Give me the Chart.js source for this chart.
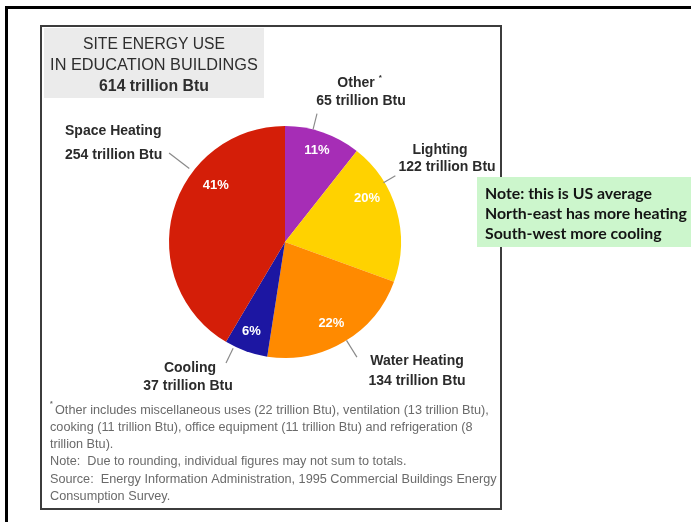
<!DOCTYPE html>
<html>
<head>
<meta charset="utf-8">
<script src="https://cdn.jsdelivr.net/npm/chart.js@4.4.0/dist/chart.umd.min.js"></script>
<style>
  html, body { margin: 0; padding: 0; background: #fff; overflow: hidden; }
  #wrap { width: 691px; height: 522px; position: relative; }
</style>
</head>
<body>
<div id="wrap"><canvas id="c" width="691" height="522"></canvas></div>
<script>
// End uses, clockwise from 12 o'clock
const categories = ['Other', 'Lighting', 'Water Heating', 'Cooling', 'Space Heating'];
const useTrillionBtu = [65, 122, 134, 37, 254];
const totalTrillionBtu = 614;
const sliceColors = ['#a62db6', '#ffd200', '#ff8a00', '#1c16a2', '#d41e08'];

const titleLines = ['SITE ENERGY USE', 'IN EDUCATION BUILDINGS', totalTrillionBtu + ' trillion Btu'];
const footnoteLines = [
  'Other includes miscellaneous uses (22 trillion Btu), ventilation (13 trillion Btu),',
  'cooking (11 trillion Btu), office equipment (11 trillion Btu) and refrigeration (8',
  'trillion Btu).',
  'Note:  Due to rounding, individual figures may not sum to totals.',
  'Source:  Energy Information Administration, 1995 Commercial Buildings Energy',
  'Consumption Survey.'
];
const noteLines = ['Note: this is US average', 'North-east has more heating', 'South-west more cooling'];

// Callout placement per slice, relative to the pie centre (px); second-line shift; leader angle (deg from top) and radii
const callouts = [
  { dx: 71,   dy: -159, gap: 18, shift: 5, align: 'center', star: true, lead: [14, 1.0, 1.14] },
  { dx: 155,  dy: -92,  gap: 17, shift: 7, align: 'center', lead: [59, 0.99, 1.11] },
  { dx: 132,  dy: 119,  gap: 20, shift: 0, align: 'center', lead: [148, 1.0, 1.17] },
  { dx: -95,  dy: 126,  gap: 18, shift: -2, align: 'center', lead: [206, 1.02, 1.16] },
  { dx: -220, dy: -111, gap: 24, shift: 0, align: 'left',   lead: [307.5, 1.04, 1.26] }
];
// Percentage label placement: angle shift from slice middle (deg) and fraction of radius
const pctPlace = [
  { da: 0, f: 0.84 }, { da: -12, f: 0.80 }, { da: 1, f: 0.81 }, { da: 1, f: 0.82 }, { da: 24, f: 0.77 }
];

const SANS = '"Liberation Sans", Arial, sans-serif';
const LABEL_FONT = 'bold 14px ' + SANS;

function fitFont(ctx, text, weight, size, family, width) {
  ctx.font = weight + ' ' + size + 'px ' + family;
  const w = ctx.measureText(text).width;
  const s = size * width / w;
  ctx.font = weight + ' ' + s.toFixed(2) + 'px ' + family;
}

const decor = {
  id: 'decor',
  beforeDraw(chart) {
    const ctx = chart.ctx;
    ctx.save();
    ctx.fillStyle = '#fff';
    ctx.fillRect(0, 0, chart.width, chart.height);
    // page frame
    ctx.fillStyle = '#000';
    ctx.fillRect(5, 6, 686, 3);
    ctx.fillRect(5, 6, 3, 516);
    // figure frame
    ctx.strokeStyle = '#3c3c3c';
    ctx.lineWidth = 2;
    ctx.strokeRect(41, 26, 460, 483);
    // title box
    ctx.fillStyle = '#ebebeb';
    ctx.fillRect(44, 28, 220, 70);
    ctx.fillStyle = '#2e2e2e';
    ctx.textAlign = 'center';
    ctx.textBaseline = 'middle';
    fitFont(ctx, titleLines[0], 'normal', 14, SANS, 142);
    ctx.fillText(titleLines[0], 154, 45);
    fitFont(ctx, titleLines[1], 'normal', 14, SANS, 208);
    ctx.fillText(titleLines[1], 154, 66);
    fitFont(ctx, titleLines[2], 'bold', 13, SANS, 110);
    ctx.fillText(titleLines[2], 154, 87);
    ctx.restore();
  },
  afterDraw(chart) {
    const ctx = chart.ctx;
    const meta = chart.getDatasetMeta(0);
    ctx.save();
    meta.data.forEach((arc, i) => {
      const p = arc.getProps(['x', 'y', 'startAngle', 'endAngle', 'outerRadius'], true);
      const c = callouts[i];
      // leader line
      const a = (c.lead[0] - 90) * Math.PI / 180;
      ctx.strokeStyle = '#8a8a8a';
      ctx.lineWidth = 1.2;
      ctx.beginPath();
      ctx.moveTo(p.x + Math.cos(a) * p.outerRadius * c.lead[1], p.y + Math.sin(a) * p.outerRadius * c.lead[1]);
      ctx.lineTo(p.x + Math.cos(a) * p.outerRadius * c.lead[2], p.y + Math.sin(a) * p.outerRadius * c.lead[2]);
      ctx.stroke();
      // category + value callout
      ctx.fillStyle = '#2b2b2b';
      ctx.textBaseline = 'middle';
      ctx.textAlign = c.align;
      ctx.font = LABEL_FONT;
      const tx = p.x + c.dx, ty = p.y + c.dy;
      ctx.fillText(categories[i], tx, ty);
      if (c.star) {
        const w = ctx.measureText(categories[i]).width;
        ctx.font = 'bold 8px ' + SANS;
        ctx.textAlign = 'left';
        ctx.fillText('*', tx + w / 2 + 4, ty - 5);
        ctx.textAlign = c.align;
        ctx.font = LABEL_FONT;
      }
      ctx.fillText(useTrillionBtu[i] + ' trillion Btu', tx + c.shift, ty + c.gap);
      // percentage inside slice
      const pl = pctPlace[i];
      const mid = (p.startAngle + p.endAngle) / 2 + pl.da * Math.PI / 180;
      const pct = Math.round(useTrillionBtu[i] / totalTrillionBtu * 100) + '%';
      ctx.fillStyle = '#ffffff';
      ctx.textAlign = 'center';
      ctx.font = 'bold 13px ' + SANS;
      ctx.fillText(pct, p.x + Math.cos(mid) * p.outerRadius * pl.f, p.y + Math.sin(mid) * p.outerRadius * pl.f);
    });

    // footnotes
    ctx.fillStyle = '#6a6a6a';
    ctx.textAlign = 'left';
    ctx.textBaseline = 'middle';
    ctx.font = 'bold 7px ' + SANS;
    ctx.fillText('*', 50, 404);
    fitFont(ctx, footnoteLines[0], 'normal', 11, SANS, 434);
    const fnFont = ctx.font;
    footnoteLines.forEach((t, k) => {
      ctx.font = fnFont;
      ctx.fillText(t, k === 0 ? 55 : 50, 410 + k * 17.3);
    });

    // side note
    ctx.fillStyle = '#ccf6cc';
    ctx.fillRect(477, 177, 214, 70);
    ctx.fillStyle = '#141414';
    fitFont(ctx, noteLines[1], 'bold', 14, 'Lato, "Open Sans", sans-serif', 202);
    noteLines.forEach((t, k) => ctx.fillText(t, 485, 194 + k * 20));
    ctx.restore();
  }
};

new Chart(document.getElementById('c'), {
  type: 'pie',
  data: {
    labels: categories,
    datasets: [{
      data: useTrillionBtu,
      backgroundColor: sliceColors,
      borderWidth: 0,
      hoverOffset: 0
    }]
  },
  options: {
    responsive: false,
    animation: false,
    devicePixelRatio: 1,
    layout: { padding: { left: 169, right: 290, top: 126, bottom: 164 } },
    plugins: {
      legend: { display: false },
      title: { display: false },
      tooltip: { enabled: false }
    }
  },
  plugins: [decor]
});
</script>
</body>
</html>
